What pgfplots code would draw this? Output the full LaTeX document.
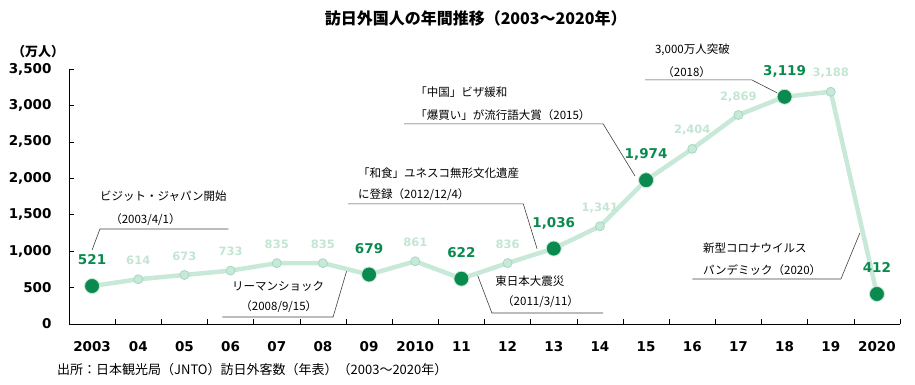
\documentclass[border=0pt]{standalone}
\usepackage{pgfplots}
\pgfplotsset{compat=1.18}
\usepackage{fontspec}
\setmainfont{Noto Sans CJK JP}
\newfontfamily\numfont{DejaVu Sans}
\definecolor{dgreen}{HTML}{0A8A4E}
\definecolor{lgreen}{HTML}{C8E9D8}
\definecolor{lgreenedge}{HTML}{A6D8C0}
\definecolor{lbl}{HTML}{C3E5D3}
\definecolor{annline}{HTML}{404040}
\begin{document}
\begin{tikzpicture}
\begin{axis}[
  scale only axis, width=831pt, height=255pt,
  xmin=-0.5, xmax=17.5, ymin=0, ymax=3500,
  axis x line*=bottom, axis y line*=left,
  xtick={-0.5,0.5,...,17.5},
  x tick label as interval,
  xticklabels={2003,04,05,06,07,08,09,2010,11,12,13,14,15,16,17,18,19,2020},
  ytick={0,500,...,3500},
  tick align=inside, major tick length=5pt,
  tick style={black, line width=0.6pt},
  axis line style={black, line width=0.8pt},
  /pgf/number format/assume math mode=true,
  /pgf/number format/1000 sep={,},
  ticklabel style={font=\numfont\bfseries\fontsize{13.5}{14}\selectfont},
  yticklabel style={xshift=-14pt},
  xticklabel style={yshift=-14pt},
  clip=false,
]
% annotation lines
\draw[annline, line width=0.6pt] (axis cs:0,1016) -- (axis cs:0.17,1304) -- (axis cs:2.95,1304);
\draw[annline, line width=0.6pt] (axis cs:2.82,96) -- (axis cs:5.22,96) -- (axis cs:5.52,741);
\draw[annline, line width=0.6pt] (axis cs:5.54,1648) -- (axis cs:9.34,1648) -- (axis cs:9.64,1030);
\draw[annline, line width=0.6pt] (axis cs:6.76,2746) -- (axis cs:11.07,2746) -- (axis cs:11.76,2032);
\draw[annline, line width=0.6pt] (axis cs:11.98,3350) -- (axis cs:14.29,3350) -- (axis cs:14.84,3172);
\draw[annline, line width=0.6pt] (axis cs:13.0,618) -- (axis cs:16.22,618) -- (axis cs:16.63,1249);
\draw[annline, line width=0.6pt] (axis cs:8.34,686) -- (axis cs:8.66,151) -- (axis cs:11.07,151);

\addplot[lgreen, line width=4.5pt] coordinates {
(0,521)(1,614)(2,673)(3,733)(4,835)(5,835)(6,679)(7,861)(8,622)(9,836)
(10,1036)(11,1341)(12,1974)(13,2404)(14,2869)(15,3119)(16,3188)(17,412)};
\addplot[only marks, mark=*, mark size=4.5pt,
  mark options={fill=lgreen, draw=lgreenedge, line width=0.8pt},
  nodes near coords,
  every node near coord/.append style={font=\numfont\bfseries\fontsize{11.5}{12}\selectfont,
     color=lbl, inner sep=0pt, text depth=0pt, anchor=south, yshift=14.5pt}]
  coordinates {(1,614)(2,673)(3,733)(4,835)(5,835)(7,861)(9,836)(11,1341)(13,2404)(14,2869)(16,3188)};
\addplot[only marks, mark=*, mark size=7.5pt,
  mark options={fill=dgreen, draw=lgreen, line width=0.8pt},
  nodes near coords,
  every node near coord/.append style={font=\numfont\bfseries\fontsize{13.5}{14}\selectfont,
     color=dgreen, inner sep=0pt, text depth=0pt, anchor=south, yshift=21pt}]
  coordinates {(0,521)(6,679)(8,622)(10,1036)(12,1974)(15,3119)(17,412)};

% annotation texts
\begin{scope}[every node/.style={anchor=west, inner sep=0pt, font=\fontsize{11.5}{13}\selectfont}]
\node at (axis cs:0.17,1757) {ビジット・ジャパン開始};
\node at (axis cs:0.39,1428) {（2003/4/1）};
\node at (axis cs:3.03,522) {リーマンショック};
\node at (axis cs:3.21,233) {（2008/9/15）};
\node at (axis cs:5.76,2073) {「和食」ユネスコ無形文化遺産};
\node at (axis cs:5.76,1771) {に登録（2012/12/4）};
\node at (axis cs:7.0,3185) {「中国」ビザ緩和};
\node at (axis cs:7.0,2870) {「爆買い」が流行語大賞（2015）};
\node at (axis cs:12.19,3762) {3,000万人突破};
\node at (axis cs:12.35,3460) {（2018）};
\node at (axis cs:13.23,1043) {新型コロナウイルス};
\node at (axis cs:13.23,741) {パンデミック（2020）};
\node at (axis cs:8.73,590) {東日本大震災};
\node at (axis cs:8.88,302) {（2011/3/11）};
\end{scope}
\node[font=\bfseries\fontsize{16}{18}\selectfont] at (axis cs:8.31,4201) {訪日外国人の年間推移（2003～2020年）};
\node[font=\bfseries\fontsize{13}{14}\selectfont] at (axis cs:-1.17,3740) {（万人）};
\node[anchor=west, inner sep=0pt, font=\fontsize{13}{14}\selectfont] at (axis cs:-0.76,-632) {出所：日本観光局（JNTO）訪日外客数（年表）（2003～2020年）};
\end{axis}
\pgfresetboundingbox
\path[use as bounding box] (current axis.south west) ++(-69pt,-61pt) rectangle ++(915pt,385pt);
\end{tikzpicture}
\end{document}
